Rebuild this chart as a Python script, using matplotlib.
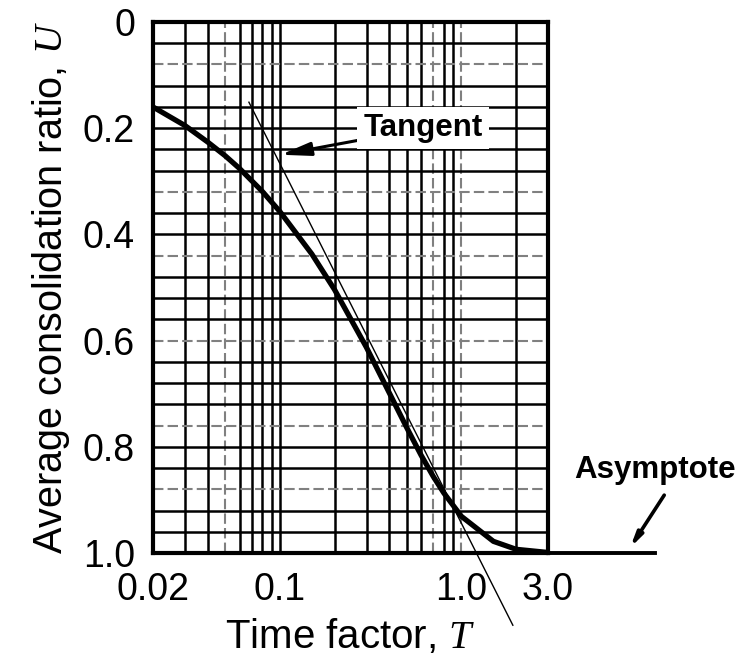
import matplotlib
matplotlib.use("Agg")
import matplotlib.pyplot as plt

plt.rcParams['font.family'] = ['Liberation Sans', 'DejaVu Sans']
plt.rcParams['mathtext.fontset'] = 'custom'
plt.rcParams['mathtext.it'] = 'Liberation Serif:italic'
plt.rcParams['mathtext.rm'] = 'Liberation Serif'

# Consolidation curve: time factor T vs average consolidation ratio U
time_factor = [0.02, 0.03, 0.04, 0.05, 0.06, 0.08, 0.10, 0.15, 0.20, 0.30,
               0.40, 0.50, 0.60, 0.70, 0.80, 1.00, 1.50, 2.00, 3.00]
consolidation = [0.160, 0.195, 0.226, 0.252, 0.276, 0.319, 0.357, 0.437, 0.504, 0.613,
                 0.698, 0.764, 0.816, 0.856, 0.887, 0.931, 0.978, 0.993, 0.999]

# Tangent through the inflection region (straight on semi-log axes)
tangent_T = [0.0675, 1.92]
tangent_U = [0.151, 1.136]

# Asymptote U = 1.0 extended past the right edge
asymptote_T = [3.0, 11.7]
asymptote_U = [1.0, 1.0]

x_ticks = [0.02, 0.1, 1.0, 3.0]
x_tick_labels = ["0.02", "0.1", "1.0", "3.0"]
y_ticks = [0.0, 0.2, 0.4, 0.6, 0.8, 1.0]
y_tick_labels = ["0", "0.2", "0.4", "0.6", "0.8", "1.0"]

# Chart-paper rulings
x_grid = [0.03, 0.04, 0.05, 0.06, 0.07, 0.08, 0.09, 0.1,
          0.2, 0.3, 0.4, 0.5, 0.6, 0.7, 0.8, 0.9, 1.0, 2.0]
x_grid_faint = [0.05, 0.7, 1.0]
y_grid = [round(0.04 * i, 2) for i in range(1, 25)]
y_grid_faint = [0.08, 0.32, 0.44, 0.60, 0.76, 0.88]

fig = plt.figure(figsize=(7.53, 6.63), dpi=100)
ax = fig.add_axes([0.2032, 0.1659, 0.5246, 0.8009])
ax.set_xscale('log')
ax.set_xlim(0.02, 3.0)
ax.set_ylim(1.0, 0.0)

faint_style = dict(color='0.5', lw=1.5, linestyle=(0, (5, 2)), zorder=1)
solid_style = dict(color='black', lw=1.8, zorder=1)
for xv in x_grid:
    ax.axvline(xv, **(faint_style if xv in x_grid_faint else solid_style))
for yv in y_grid:
    ax.axhline(yv, **(faint_style if yv in y_grid_faint else solid_style))

ax.plot(time_factor, consolidation, color='black', lw=3.8, zorder=3,
        solid_capstyle='butt', clip_on=False)
ax.plot(tangent_T, tangent_U, color='black', lw=1.0, zorder=3, clip_on=False)
ax.plot(asymptote_T, asymptote_U, color='black', lw=2.8, zorder=3, clip_on=False)

for s in ax.spines.values():
    s.set_linewidth(3.0)
    s.set_zorder(4)

ax.set_xticks(x_ticks)
ax.set_xticklabels(x_tick_labels)
ax.set_xticks([], minor=True)
ax.set_yticks(y_ticks)
ax.set_yticklabels(y_tick_labels)
ax.tick_params(axis='both', which='both', length=0, labelsize=27)
ax.tick_params(axis='x', pad=14)
ax.tick_params(axis='y', pad=13)

ax.set_xlabel('Time factor, $T$', fontsize=29, labelpad=6)
ax.set_ylabel('Average consolidation ratio, $U$', fontsize=28.5, labelpad=8)

ax.annotate('Tangent', xy=(0.101, 0.25), xytext=(0.616, 0.2),
            fontsize=22.5, fontweight='bold', ha='center', va='center',
            bbox=dict(boxstyle='square,pad=0.2', fc='white', ec='none'),
            arrowprops=dict(arrowstyle='-|>,head_length=0.8,head_width=0.18',
                            color='black', lw=2.2, shrinkA=0, shrinkB=0),
            zorder=5, annotation_clip=False)

ax.text(11.7, 0.844, 'Asymptote', fontsize=22.5, fontweight='bold',
        ha='center', va='center', clip_on=False)
ax.annotate('', xy=(8.5, 0.99), xytext=(13.1, 0.891),
            arrowprops=dict(arrowstyle='-|>,head_length=0.8,head_width=0.18',
                            color='black', lw=2.6, shrinkA=0, shrinkB=0),
            annotation_clip=False)

fig.savefig('out.png', dpi=100)
